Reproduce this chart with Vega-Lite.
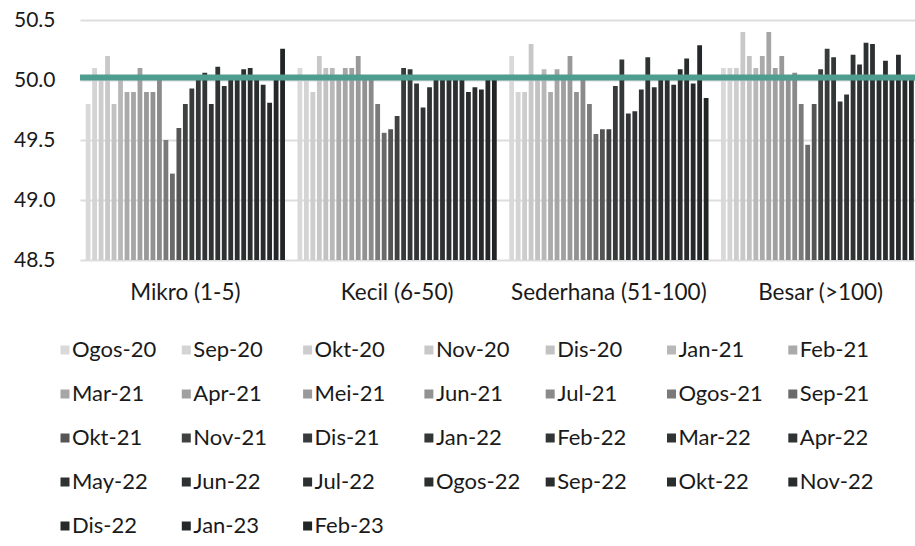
{
  "$schema": "https://vega.github.io/schema/vega-lite/v6.json",
  "width": 835,
  "height": 240,
  "autosize": {"type": "none"},
  "padding": {"left": 80, "top": 20, "right": 0, "bottom": 286},
  "background": "#ffffff",
  "config": {
    "font": "Lato",
    "view": {"stroke": null},
    "axis": {"labelFont": "Lato", "labelColor": "#1a1a1a"},
    "legend": {"labelFont": "Lato", "labelColor": "#1a1a1a"}
  },
  "datasets": {
    "bars": [
      {"g": "Mikro (1-5)", "m": "Ogos-20", "v": 49.8},
      {"g": "Mikro (1-5)", "m": "Sep-20", "v": 50.1},
      {"g": "Mikro (1-5)", "m": "Okt-20", "v": 50.0},
      {"g": "Mikro (1-5)", "m": "Nov-20", "v": 50.2},
      {"g": "Mikro (1-5)", "m": "Dis-20", "v": 49.8},
      {"g": "Mikro (1-5)", "m": "Jan-21", "v": 50.0},
      {"g": "Mikro (1-5)", "m": "Feb-21", "v": 49.9},
      {"g": "Mikro (1-5)", "m": "Mar-21", "v": 49.9},
      {"g": "Mikro (1-5)", "m": "Apr-21", "v": 50.1},
      {"g": "Mikro (1-5)", "m": "Mei-21", "v": 49.9},
      {"g": "Mikro (1-5)", "m": "Jun-21", "v": 49.9},
      {"g": "Mikro (1-5)", "m": "Jul-21", "v": 50.0},
      {"g": "Mikro (1-5)", "m": "Ogos-21", "v": 49.5},
      {"g": "Mikro (1-5)", "m": "Sep-21", "v": 49.22},
      {"g": "Mikro (1-5)", "m": "Okt-21", "v": 49.6},
      {"g": "Mikro (1-5)", "m": "Nov-21", "v": 49.8},
      {"g": "Mikro (1-5)", "m": "Dis-21", "v": 49.93},
      {"g": "Mikro (1-5)", "m": "Jan-22", "v": 50.0},
      {"g": "Mikro (1-5)", "m": "Feb-22", "v": 50.06},
      {"g": "Mikro (1-5)", "m": "Mar-22", "v": 49.8},
      {"g": "Mikro (1-5)", "m": "Apr-22", "v": 50.11},
      {"g": "Mikro (1-5)", "m": "May-22", "v": 49.95},
      {"g": "Mikro (1-5)", "m": "Jun-22", "v": 50.0},
      {"g": "Mikro (1-5)", "m": "Jul-22", "v": 50.0},
      {"g": "Mikro (1-5)", "m": "Ogos-22", "v": 50.09},
      {"g": "Mikro (1-5)", "m": "Sep-22", "v": 50.1},
      {"g": "Mikro (1-5)", "m": "Okt-22", "v": 50.0},
      {"g": "Mikro (1-5)", "m": "Nov-22", "v": 49.96},
      {"g": "Mikro (1-5)", "m": "Dis-22", "v": 49.81},
      {"g": "Mikro (1-5)", "m": "Jan-23", "v": 50.0},
      {"g": "Mikro (1-5)", "m": "Feb-23", "v": 50.26},
      {"g": "Kecil (6-50)", "m": "Ogos-20", "v": 50.1},
      {"g": "Kecil (6-50)", "m": "Sep-20", "v": 50.0},
      {"g": "Kecil (6-50)", "m": "Okt-20", "v": 49.9},
      {"g": "Kecil (6-50)", "m": "Nov-20", "v": 50.2},
      {"g": "Kecil (6-50)", "m": "Dis-20", "v": 50.1},
      {"g": "Kecil (6-50)", "m": "Jan-21", "v": 50.1},
      {"g": "Kecil (6-50)", "m": "Feb-21", "v": 50.0},
      {"g": "Kecil (6-50)", "m": "Mar-21", "v": 50.1},
      {"g": "Kecil (6-50)", "m": "Apr-21", "v": 50.1},
      {"g": "Kecil (6-50)", "m": "Mei-21", "v": 50.2},
      {"g": "Kecil (6-50)", "m": "Jun-21", "v": 50.0},
      {"g": "Kecil (6-50)", "m": "Jul-21", "v": 50.0},
      {"g": "Kecil (6-50)", "m": "Ogos-21", "v": 49.8},
      {"g": "Kecil (6-50)", "m": "Sep-21", "v": 49.56},
      {"g": "Kecil (6-50)", "m": "Okt-21", "v": 49.59},
      {"g": "Kecil (6-50)", "m": "Nov-21", "v": 49.7},
      {"g": "Kecil (6-50)", "m": "Dis-21", "v": 50.1},
      {"g": "Kecil (6-50)", "m": "Jan-22", "v": 50.09},
      {"g": "Kecil (6-50)", "m": "Feb-22", "v": 49.97},
      {"g": "Kecil (6-50)", "m": "Mar-22", "v": 49.77},
      {"g": "Kecil (6-50)", "m": "Apr-22", "v": 49.94},
      {"g": "Kecil (6-50)", "m": "May-22", "v": 50.0},
      {"g": "Kecil (6-50)", "m": "Jun-22", "v": 50.0},
      {"g": "Kecil (6-50)", "m": "Jul-22", "v": 50.0},
      {"g": "Kecil (6-50)", "m": "Ogos-22", "v": 50.0},
      {"g": "Kecil (6-50)", "m": "Sep-22", "v": 50.0},
      {"g": "Kecil (6-50)", "m": "Okt-22", "v": 49.9},
      {"g": "Kecil (6-50)", "m": "Nov-22", "v": 49.94},
      {"g": "Kecil (6-50)", "m": "Dis-22", "v": 49.92},
      {"g": "Kecil (6-50)", "m": "Jan-23", "v": 50.0},
      {"g": "Kecil (6-50)", "m": "Feb-23", "v": 50.0},
      {"g": "Sederhana (51-100)", "m": "Ogos-20", "v": 50.2},
      {"g": "Sederhana (51-100)", "m": "Sep-20", "v": 49.9},
      {"g": "Sederhana (51-100)", "m": "Okt-20", "v": 49.9},
      {"g": "Sederhana (51-100)", "m": "Nov-20", "v": 50.3},
      {"g": "Sederhana (51-100)", "m": "Dis-20", "v": 50.0},
      {"g": "Sederhana (51-100)", "m": "Jan-21", "v": 50.09},
      {"g": "Sederhana (51-100)", "m": "Feb-21", "v": 49.9},
      {"g": "Sederhana (51-100)", "m": "Mar-21", "v": 50.09},
      {"g": "Sederhana (51-100)", "m": "Apr-21", "v": 50.0},
      {"g": "Sederhana (51-100)", "m": "Mei-21", "v": 50.2},
      {"g": "Sederhana (51-100)", "m": "Jun-21", "v": 49.9},
      {"g": "Sederhana (51-100)", "m": "Jul-21", "v": 50.0},
      {"g": "Sederhana (51-100)", "m": "Ogos-21", "v": 49.8},
      {"g": "Sederhana (51-100)", "m": "Sep-21", "v": 49.55},
      {"g": "Sederhana (51-100)", "m": "Okt-21", "v": 49.59},
      {"g": "Sederhana (51-100)", "m": "Nov-21", "v": 49.59},
      {"g": "Sederhana (51-100)", "m": "Dis-21", "v": 49.95},
      {"g": "Sederhana (51-100)", "m": "Jan-22", "v": 50.17},
      {"g": "Sederhana (51-100)", "m": "Feb-22", "v": 49.72},
      {"g": "Sederhana (51-100)", "m": "Mar-22", "v": 49.74},
      {"g": "Sederhana (51-100)", "m": "Apr-22", "v": 49.92},
      {"g": "Sederhana (51-100)", "m": "May-22", "v": 50.19},
      {"g": "Sederhana (51-100)", "m": "Jun-22", "v": 49.94},
      {"g": "Sederhana (51-100)", "m": "Jul-22", "v": 50.0},
      {"g": "Sederhana (51-100)", "m": "Ogos-22", "v": 50.0},
      {"g": "Sederhana (51-100)", "m": "Sep-22", "v": 49.96},
      {"g": "Sederhana (51-100)", "m": "Okt-22", "v": 50.09},
      {"g": "Sederhana (51-100)", "m": "Nov-22", "v": 50.18},
      {"g": "Sederhana (51-100)", "m": "Dis-22", "v": 49.97},
      {"g": "Sederhana (51-100)", "m": "Jan-23", "v": 50.29},
      {"g": "Sederhana (51-100)", "m": "Feb-23", "v": 49.85},
      {"g": "Besar (>100)", "m": "Ogos-20", "v": 50.1},
      {"g": "Besar (>100)", "m": "Sep-20", "v": 50.1},
      {"g": "Besar (>100)", "m": "Okt-20", "v": 50.1},
      {"g": "Besar (>100)", "m": "Nov-20", "v": 50.4},
      {"g": "Besar (>100)", "m": "Dis-20", "v": 50.2},
      {"g": "Besar (>100)", "m": "Jan-21", "v": 50.1},
      {"g": "Besar (>100)", "m": "Feb-21", "v": 50.2},
      {"g": "Besar (>100)", "m": "Mar-21", "v": 50.4},
      {"g": "Besar (>100)", "m": "Apr-21", "v": 50.1},
      {"g": "Besar (>100)", "m": "Mei-21", "v": 50.2},
      {"g": "Besar (>100)", "m": "Jun-21", "v": 50.0},
      {"g": "Besar (>100)", "m": "Jul-21", "v": 50.06},
      {"g": "Besar (>100)", "m": "Ogos-21", "v": 49.8},
      {"g": "Besar (>100)", "m": "Sep-21", "v": 49.46},
      {"g": "Besar (>100)", "m": "Okt-21", "v": 49.8},
      {"g": "Besar (>100)", "m": "Nov-21", "v": 50.09},
      {"g": "Besar (>100)", "m": "Dis-21", "v": 50.26},
      {"g": "Besar (>100)", "m": "Jan-22", "v": 50.19},
      {"g": "Besar (>100)", "m": "Feb-22", "v": 49.82},
      {"g": "Besar (>100)", "m": "Mar-22", "v": 49.88},
      {"g": "Besar (>100)", "m": "Apr-22", "v": 50.21},
      {"g": "Besar (>100)", "m": "May-22", "v": 50.13},
      {"g": "Besar (>100)", "m": "Jun-22", "v": 50.31},
      {"g": "Besar (>100)", "m": "Jul-22", "v": 50.3},
      {"g": "Besar (>100)", "m": "Ogos-22", "v": 50.0},
      {"g": "Besar (>100)", "m": "Sep-22", "v": 50.16},
      {"g": "Besar (>100)", "m": "Okt-22", "v": 50.0},
      {"g": "Besar (>100)", "m": "Nov-22", "v": 50.21},
      {"g": "Besar (>100)", "m": "Dis-22", "v": 50.0},
      {"g": "Besar (>100)", "m": "Jan-23", "v": 50.0},
      {"g": "Besar (>100)", "m": "Feb-23", "v": 50.0}
    ],
    "ref": [{"v": 50.02}]
  },
  "layer": [
    {
      "data": {"name": "bars"},
      "mark": {"type": "bar", "clip": true},
      "encoding": {
        "x": {
          "field": "g",
          "type": "nominal",
          "sort": ["Mikro (1-5)", "Kecil (6-50)", "Sederhana (51-100)", "Besar (>100)"],
          "scale": {"range": [0, 846], "paddingInner": 0.059, "paddingOuter": 0.027},
          "axis": {
            "title": null,
            "domain": false,
            "ticks": false,
            "grid": false,
            "labelAngle": 0,
            "labelFontSize": 22.5,
            "labelLimit": 400,
            "labelPadding": 21,
            "labelBaseline": "top"
          }
        },
        "xOffset": {
          "field": "m",
          "type": "nominal",
          "sort": ["Ogos-20","Sep-20","Okt-20","Nov-20","Dis-20","Jan-21","Feb-21","Mar-21","Apr-21","Mei-21","Jun-21","Jul-21","Ogos-21","Sep-21","Okt-21","Nov-21","Dis-21","Jan-22","Feb-22","Mar-22","Apr-22","May-22","Jun-22","Jul-22","Ogos-22","Sep-22","Okt-22","Nov-22","Dis-22","Jan-23","Feb-23"],
          "scale": {"paddingInner": 0.26, "paddingOuter": 0}
        },
        "y": {
          "field": "v",
          "type": "quantitative",
          "scale": {"domain": [48.5, 50.5], "zero": false, "nice": false},
          "axis": {
            "title": null,
            "domain": false,
            "ticks": false,
            "grid": true,
            "gridColor": "#dddddd",
            "gridWidth": 2,
            "values": [48.5, 49, 49.5, 50, 50.5],
            "format": ".1f",
            "labelFontSize": 21,
            "labelPadding": 25
          }
        },
        "y2": {"datum": 48.5},
        "color": {
          "field": "m",
          "type": "nominal",
          "sort": ["Ogos-20","Sep-20","Okt-20","Nov-20","Dis-20","Jan-21","Feb-21","Mar-21","Apr-21","Mei-21","Jun-21","Jul-21","Ogos-21","Sep-21","Okt-21","Nov-21","Dis-21","Jan-22","Feb-22","Mar-22","Apr-22","May-22","Jun-22","Jul-22","Ogos-22","Sep-22","Okt-22","Nov-22","Dis-22","Jan-23","Feb-23"],
          "scale": {
            "domain": ["Ogos-20","Sep-20","Okt-20","Nov-20","Dis-20","Jan-21","Feb-21","Mar-21","Apr-21","Mei-21","Jun-21","Jul-21","Ogos-21","Sep-21","Okt-21","Nov-21","Dis-21","Jan-22","Feb-22","Mar-22","Apr-22","May-22","Jun-22","Jul-22","Ogos-22","Sep-22","Okt-22","Nov-22","Dis-22","Jan-23","Feb-23"],
            "range": ["#d9d9d9","#d4d4d4","#cdcdcd","#c8c8c8","#c2c2c2","#b8b8b8","#aaaaaa","#a6a6a6","#a0a0a0","#999999","#929292","#8a8a8a","#7a7a7a","#6a6a6a","#555555","#404242","#383b3c","#343738","#323536","#303435","#303334","#2f3233","#2e3132","#2d3031","#2c2f30","#2b2e2f","#2a2d2e","#292c2d","#272a2b","#25282a","#222526"]
          },
          "legend": {
            "title": null,
            "orient": "none",
            "legendX": -26,
            "legendY": 319,
            "direction": "horizontal",
            "columns": 7,
            "gridAlign": "all",
            "padding": 0,
            "symbolLimit": 0,
            "symbolType": "square",
            "symbolSize": 81,
            "symbolStrokeWidth": 0,
            "labelFontSize": 22,
            "labelOffset": -4,
            "labelLimit": 300,
            "columnPadding": 18.3,
            "rowPadding": 22
          }
        }
      }
    },
    {
      "data": {"name": "ref"},
      "mark": {"type": "rule", "color": "#4e9d8e", "strokeWidth": 6},
      "encoding": {"y": {"field": "v", "type": "quantitative"}}
    }
  ]
}
